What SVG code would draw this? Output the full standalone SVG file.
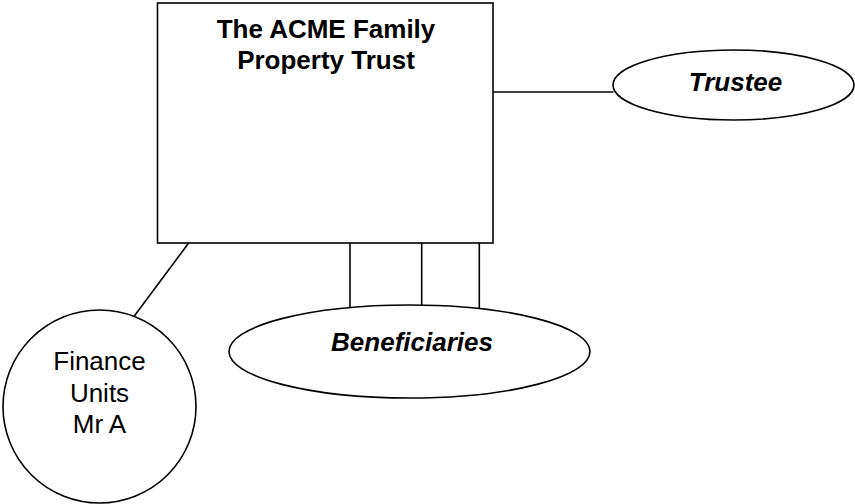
<svg xmlns="http://www.w3.org/2000/svg" width="855" height="504" viewBox="0 0 855 504">
<style>
.s{fill:#fff;stroke:#000;stroke-width:1.6}
.c line{stroke:#000;stroke-width:1.6}
text{font-family:"Liberation Sans",Arial,sans-serif;font-size:26px;fill:#000;text-anchor:middle}
.b{font-weight:bold}
.bi{font-weight:bold;font-style:italic}
</style>
<rect width="855" height="504" fill="#fff"/>
<g class="c" id="connectors">
<line x1="493" y1="92" x2="613.5" y2="92"/>
<line x1="188.7" y1="243" x2="134.3" y2="316"/>
<line x1="350" y1="243" x2="350" y2="307.6"/>
<line x1="421.7" y1="243" x2="421.7" y2="305.1"/>
<line x1="479.3" y1="243" x2="479.3" y2="308.6"/>
</g>
<g id="trust">
<rect class="s" x="157.5" y="3" width="335.5" height="240"/>
<text class="b" x="326" y="37.7">The ACME Family</text>
<text class="b" x="326" y="69.3">Property Trust</text>
</g>
<g id="trustee">
<ellipse class="s" cx="733.5" cy="85" rx="120.5" ry="35"/>
<text class="bi" x="735.5" y="91.2">Trustee</text>
</g>
<g id="beneficiaries">
<ellipse class="s" cx="409.5" cy="351.5" rx="180.5" ry="46.5"/>
<text class="bi" x="412" y="350.7">Beneficiaries</text>
</g>
<g id="finance">
<circle class="s" cx="99.5" cy="406.5" r="96.5"/>
<text x="99.5" y="370">Finance</text>
<text x="99.5" y="401.7">Units</text>
<text x="99.5" y="432.7">Mr A</text>
</g>
</svg>
